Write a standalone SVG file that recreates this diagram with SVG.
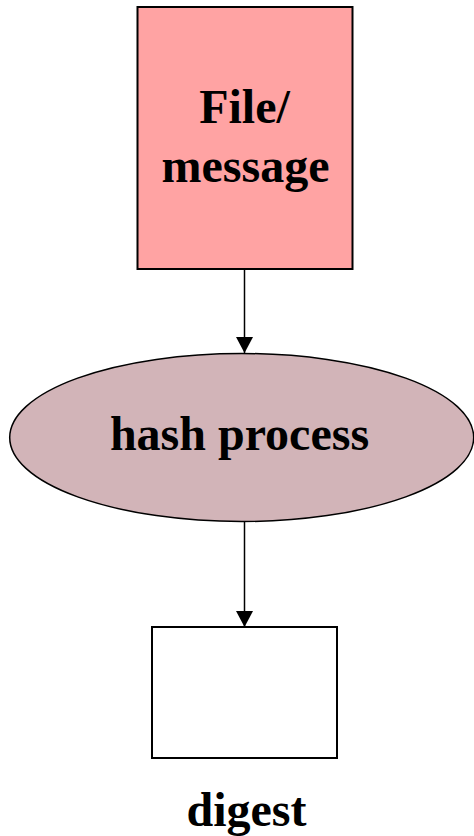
<svg xmlns="http://www.w3.org/2000/svg" width="474" height="836" viewBox="0 0 474 836">
<defs>
<style>
.t{font-family:"Liberation Serif","Times New Roman",serif;font-weight:bold;font-size:48px;fill:#000;text-anchor:middle}
.edge{stroke:#000;stroke-width:1.5;fill:none}
</style>
<marker id="ah" viewBox="0 0 16 17" refX="16" refY="8.5" markerWidth="16" markerHeight="17" markerUnits="userSpaceOnUse" orient="auto">
<path d="M0,0 L16,8.5 L0,17 Z" fill="#000"/>
</marker>
</defs>
<rect width="474" height="836" fill="#fff"/>
<g id="connectors">
<line class="edge" x1="244.5" y1="269" x2="244.5" y2="353" marker-end="url(#ah)"/>
<line class="edge" x1="244.5" y1="522" x2="244.5" y2="627" marker-end="url(#ah)"/>
</g>
<g id="file">
<rect x="137.5" y="7" width="215" height="262" fill="#ffa3a3" stroke="#000" stroke-width="2"/>
<text class="t" x="244.5" y="123">File/</text>
<text class="t" x="245.5" y="182">message</text>
</g>
<g id="hash">
<ellipse cx="241.7" cy="437.5" rx="232" ry="84" fill="#d2b4b8" stroke="#000" stroke-width="1.5"/>
<text class="t" x="239.5" y="450">hash process</text>
</g>
<g id="digest">
<rect x="152" y="627" width="185" height="131" fill="#fff" stroke="#000" stroke-width="2"/>
<text class="t" x="246.5" y="826">digest</text>
</g>
</svg>
